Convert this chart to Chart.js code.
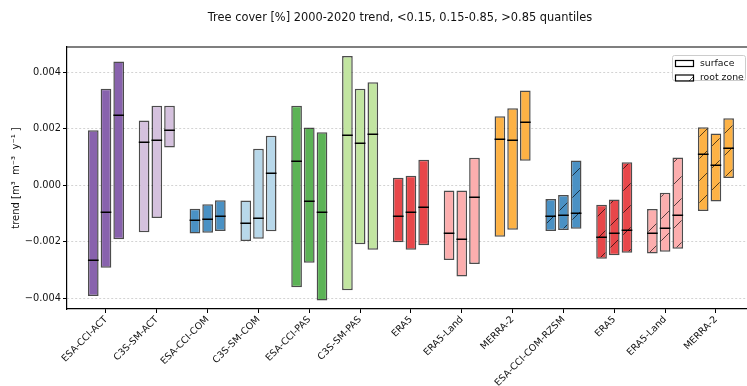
<!DOCTYPE html>
<html>
<head>
<meta charset="utf-8">
<script src="https://cdn.jsdelivr.net/npm/chart.js@4/dist/chart.umd.min.js"></script>
<style>
  html, body { margin: 0; padding: 0; background: #fff; overflow: hidden; }
  #wrap { width: 752px; height: 386px; }
</style>
</head>
<body>
<div id="wrap"><canvas id="trend-chart"></canvas></div>
<script>
const categories = [
  "ESA-CCI-ACT", "C3S-SM-ACT", "ESA-CCI-COM", "C3S-SM-COM", "ESA-CCI-PAS", "C3S-SM-PAS",
  "ERA5", "ERA5-Land", "MERRA-2", "ESA-CCI-COM-RZSM", "ERA5", "ERA5-Land", "MERRA-2",
];
const rootZone = [false, false, false, false, false, false, false, false, false, true, true, true, true];
const colors = [
  "#8862ad", "#d5c1de", "#4a91c4", "#b8d8ea", "#5cb356", "#c2e5a1",
  "#e8474a", "#fcaeae", "#fdb245", "#4a91c4", "#e8474a", "#fcaeae", "#fdb245",
];

// <0.15 quantile of tree cover
const lowQLow = [-0.00392, -0.00166, -0.00171, -0.00197, -0.00361, -0.00372, -0.00202, -0.00264, -0.00182, -0.00162, -0.0026, -0.00241, -0.00091];
const lowQMed = [-0.00263, 0.00154, -0.00124, -0.00135, 0.00085, 0.00177, -0.00108, -0.00169, 0.00164, -0.00109, -0.00183, -0.00169, 0.0011];
const lowQHigh = [0.00195, 0.0023, -0.00083, -0.00054, 0.00282, 0.00458, 0.00027, -0.00018, 0.00245, -0.00048, -0.00069, -0.00084, 0.00206];

// 0.15-0.85 quantile
const midQLow = [-0.00292, -0.00116, -0.00168, -0.00189, -0.00274, -0.00209, -0.00228, -0.00323, -0.00157, -0.00158, -0.00248, -0.00235, -0.00057];
const midQMed = [-0.00096, 0.0016, -0.00118, -0.00116, -0.00056, 0.00151, -0.00093, -0.00191, 0.00161, -0.00106, -0.00169, -0.00151, 0.00073];
const midQHigh = [0.00342, 0.00282, -0.00067, 0.0013, 0.00205, 0.00342, 0.00034, -0.00018, 0.00273, -0.00034, -0.0005, -0.00026, 0.00184];

// >0.85 quantile
const highQLow = [-0.00191, 0.00134, -0.00162, -0.00163, -0.00408, -0.00228, -0.00212, -0.00279, 0.00087, -0.00154, -0.00239, -0.00225, 0.00026];
const highQMed = [0.00248, 0.00196, -0.0011, 0.00042, -0.00096, 0.00182, -0.00077, -0.0004, 0.00224, -0.00098, -0.00158, -0.00106, 0.00134];
const highQHigh = [0.00439, 0.00282, -0.00053, 0.00176, 0.00188, 0.00365, 0.00091, 0.00098, 0.00336, 0.00088, 0.00082, 0.00099, 0.00238];

const yTicks = [-0.004, -0.002, 0, 0.002, 0.004];
const legendLabels = ["surface", "root zone"];
const titleText = "Tree cover [%] 2000-2020 trend, <0.15, 0.15-0.85, >0.85 quantiles";
const yTitle = "trend [m\u00b3  m\u207b\u00b3  y\u207b\u00b9 ]";

const FONT = "'DejaVu Sans', sans-serif";
const HATCH = 22;
const hatchCache = {};

function hatchTile(fill) {
  const tile = document.createElement("canvas");
  tile.width = HATCH;
  tile.height = HATCH;
  const c = tile.getContext("2d");
  if (fill) {
    c.fillStyle = fill;
    c.fillRect(0, 0, HATCH, HATCH);
  }
  c.strokeStyle = "rgba(0,0,0,0.65)";
  c.lineWidth = 1;
  c.beginPath();
  c.moveTo(0, HATCH);
  c.lineTo(HATCH, 0);
  c.moveTo(-2, 2);
  c.lineTo(2, -2);
  c.moveTo(HATCH - 2, HATCH + 2);
  c.lineTo(HATCH + 2, HATCH - 2);
  c.stroke();
  return tile;
}

function fillFor(ctx) {
  const i = ctx.dataIndex;
  if (!rootZone[i]) return colors[i];
  const key = colors[i];
  if (!hatchCache[key]) hatchCache[key] = ctx.chart.ctx.createPattern(hatchTile(key), "repeat");
  return hatchCache[key];
}

function floating(lows, highs) {
  return lows.map((lo, i) => ({ x: i, y: [lo, highs[i]] }));
}

const medians = [lowQMed, midQMed, highQMed];

function makeDataset(label, lows, highs) {
  return {
    label,
    data: floating(lows, highs),
    backgroundColor: fillFor,
    borderColor: "rgba(0,0,0,0.7)",
    borderWidth: 1.5,
    borderSkipped: false,
    categoryPercentage: 0.75,
    barPercentage: 0.84,
  };
}

// median line across each box
const medianLines = {
  id: "medianLines",
  afterDatasetsDraw(chart) {
    const { ctx } = chart;
    const y = chart.scales.y;
    ctx.save();
    ctx.strokeStyle = "#000";
    ctx.lineWidth = 1.5;
    chart.data.datasets.forEach((ds, d) => {
      const meta = chart.getDatasetMeta(d);
      meta.data.forEach((bar, i) => {
        const py = Math.round(y.getPixelForValue(medians[d][i])) + 0.25;
        ctx.beginPath();
        ctx.moveTo(bar.x - bar.width / 2, py);
        ctx.lineTo(bar.x + bar.width / 2, py);
        ctx.stroke();
      });
    });
    ctx.restore();
  },
};

// top spine, suptitle and the surface / root zone legend
const frame = {
  id: "frame",
  afterDraw(chart) {
    const { ctx, chartArea } = chart;
    ctx.save();
    ctx.strokeStyle = "#000";
    ctx.lineWidth = 1.2;
    ctx.beginPath();
    ctx.moveTo(chartArea.left, chartArea.top);
    ctx.lineTo(chartArea.right, chartArea.top);
    ctx.stroke();

    ctx.fillStyle = "#111";
    ctx.font = "11.4px " + FONT;
    ctx.textAlign = "center";
    ctx.textBaseline = "middle";
    ctx.fillText(titleText, 400, 18);

    const bx = chartArea.right - 80;
    const by = chartArea.top + 8;
    ctx.fillStyle = "rgba(255,255,255,0.85)";
    ctx.strokeStyle = "#cccccc";
    ctx.lineWidth = 1;
    ctx.beginPath();
    ctx.roundRect(bx + 0.5, by + 0.5, 73, 25, 2);
    ctx.fill();
    ctx.stroke();

    ctx.font = "9.3px " + FONT;
    ctx.textAlign = "left";
    legendLabels.forEach((text, k) => {
      const ry = by + 6 + k * 14.5;
      const px = bx + 3.5;
      if (k === 1) {
        ctx.fillStyle = ctx.createPattern(hatchTile(null), "repeat");
        ctx.fillRect(px, ry - 0.5, 18, 6);
      } else {
        ctx.fillStyle = "#fff";
        ctx.fillRect(px, ry - 0.5, 18, 6);
      }
      ctx.strokeStyle = "#000";
      ctx.lineWidth = 1.2;
      ctx.strokeRect(px, ry - 0.5, 18, 6);
      ctx.fillStyle = "#111";
      ctx.fillText(text, bx + 28, ry + 2.5);
    });
    ctx.restore();
  },
};

new Chart(document.getElementById("trend-chart"), {
  type: "bar",
  data: {
    datasets: [
      makeDataset("<0.15", lowQLow, lowQHigh),
      makeDataset("0.15-0.85", midQLow, midQHigh),
      makeDataset(">0.85", highQLow, highQHigh),
    ],
  },
  options: {
    responsive: true,
    maintainAspectRatio: false,
    animation: false,
    events: [],
    layout: { padding: { top: 47, left: 0, right: 0, bottom: 0 } },
    plugins: { legend: { display: false }, title: { display: false }, tooltip: { enabled: false } },
    scales: {
      x: {
        type: "linear",
        offset: false,
        min: -0.767,
        max: 12.71,
        afterBuildTicks: (scale) => {
          scale.ticks = categories.map((_, i) => ({ value: i }));
        },
        afterFit: (scale) => {
          scale.height = 77;
        },
        grid: { display: true, offset: false, drawOnChartArea: false, drawTicks: true, tickLength: 4, tickColor: "#000", tickWidth: 1 },
        border: { display: true, color: "#000", width: 1.2 },
        ticks: {
          autoSkip: false,
          maxRotation: 45,
          minRotation: 45,
          padding: 1,
          color: "#111",
          font: { family: FONT, size: 9.5 },
          callback: (v) => categories[v],
        },
      },
      y: {
        min: -0.00438,
        max: 0.0049,
        afterBuildTicks: (scale) => {
          scale.ticks = yTicks.map((v) => ({ value: v }));
        },
        afterFit: (scale) => {
          scale.width = 67;
        },
        grid: {
          color: "#c8c8c8",
          lineWidth: 0.8,
          tickLength: 4,
          tickColor: "#000",
          tickWidth: 1,
          tickBorderDash: [],
        },
        border: { display: true, color: "#000", width: 1.2, dash: [2, 2] },
        ticks: {
          padding: 2,
          color: "#111",
          font: { family: FONT, size: 9.8 },
          callback: (v) => (v === 0 ? "0.000" : (v < 0 ? "\u2212" : "") + Math.abs(v).toFixed(3)),
        },
        title: {
          display: true,
          text: yTitle,
          color: "#111",
          font: { family: FONT, size: 10 },
          padding: { top: 10, bottom: 0 },
        },
      },
    },
  },
  plugins: [medianLines, frame],
});
</script>
</body>
</html>
